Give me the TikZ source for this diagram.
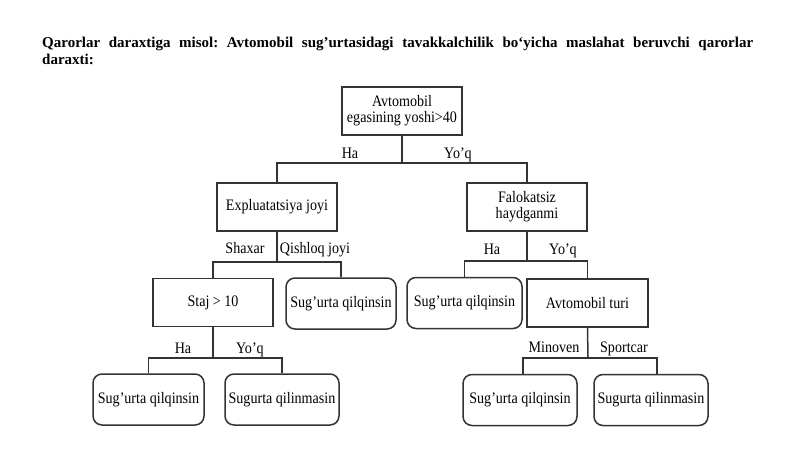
\documentclass[tikz,border=0pt]{standalone}
\usepackage{fontspec}
\setmainfont{Liberation Serif}
\newfontfamily\treefont[FakeStretch=0.88,Ligatures=TeX]{Liberation Serif}
\tikzstyle{box} = [draw=black!80, line width=1.5pt, minimum width=120pt, minimum height=48pt, align=center, inner sep=2pt, font=\treefont\fontsize{16}{16}\selectfont]
\tikzstyle{leaf} = [box, rounded corners=9pt, minimum width=112pt, minimum height=51pt]
\tikzstyle{lbl} = [font=\treefont\fontsize{16}{16}\selectfont, inner sep=0pt, anchor=base]
\tikzstyle{line} = [draw=black!80, line width=1.5pt]

\begin{document}
\frenchspacing
\begin{tikzpicture}[x=1pt,y=-1pt]
        \useasboundingbox (0,0) rectangle (800,449);
        % \draw[step=50,gray,very thin] (0,0) grid (800,449);
        \node[anchor=base west, align=left, inner sep=0pt, font=\bfseries\fontsize{15}{17}\selectfont] (title) at (42,64.5) {\makebox[711pt][s]{Qarorlar daraxtiga misol: Avtomobil sug'urtasidagi tavakkalchilik bo‘yicha maslahat beruvchi qarorlar}\\daraxti:};
        \node[box] (age) at (402,111) {Avtomobil\\egasining yoshi>40};
        \node[box] (place) at (277,207) {Expluatatsiya joyi};
        \node[box] (safe) at (527,207) {Falokatsiz\\haydganmi};
        \node[box] (exp) at (213,302.5) {Staj > 10};
        \node[leaf, minimum width=110pt] (insA) at (341,303.5) {Sug'urta qilqinsin};
        \node[leaf, minimum width=115pt] (insB) at (464.5,303) {Sug'urta qilqinsin};
        \node[box, minimum width=121pt] (type) at (587.5,303) {Avtomobil turi};
        \node[leaf, minimum width=111pt] (insC) at (148.5,399.5) {Sug'urta qilqinsin};
        \node[leaf, minimum width=114pt] (noA) at (282,399.5) {Sugurta qilinmasin};
        \node[leaf, minimum width=114pt] (insD) at (520,400) {Sug'urta qilqinsin};
        \node[leaf, minimum width=114pt] (noB) at (651,400) {Sugurta qilinmasin};
        \coordinate (j1) at (402,163);
        \coordinate (j2) at (277,262);
        \coordinate (j3) at (213,358);
        \coordinate (j4) at (527,261);
        \coordinate (j5) at (588,358);
        \draw[line] (age.south) -- (j1);
        \draw[line] (place.north) |- (j1) -| (safe.north);
        \draw[line] (place.south) -- (j2);
        \draw[line] (exp.north) |- (j2) -| (insA.north);
        \draw[line] (exp.south) -- (j3);
        \draw[line] (insC.north) |- (j3) -| (noA.north);
        \draw[line] (safe.south) -- (j4);
        \draw[line] (insB.north) |- (j4) -| (type.north);
        \draw[line] (type.south) -- (j5);
        \draw[line] ([xshift=3pt]insD.north) |- (j5) -| ([xshift=6pt]noB.north);
        \node[lbl] (ha1) at (350,159) {Ha};
        \node[lbl] (no1) at (458,159) {Yo'q};
        \node[lbl] (city) at (245,253) {Shaxar};
        \node[lbl] (village) at (315,253) {Qishloq joyi};
        \node[lbl] (ha2) at (183,353) {Ha};
        \node[lbl] (no2) at (250,353) {Yo'q};
        \node[lbl] (ha3) at (492,254) {Ha};
        \node[lbl] (no3) at (563,254) {Yo'q};
        \node[lbl] (mini) at (554,352) {Minoven};
        \node[lbl] (sport) at (624,352) {Sportcar};
\end{tikzpicture}
\end{document}
